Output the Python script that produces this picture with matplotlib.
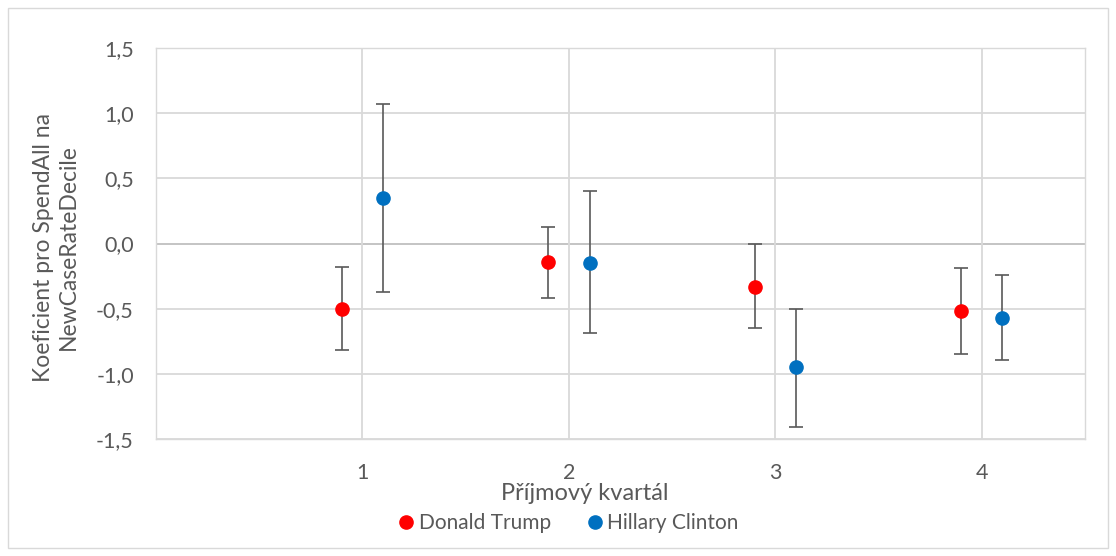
#! /usr/bin/env python3

import numpy as np
import matplotlib.pyplot as plt
from matplotlib.patches import Rectangle
from matplotlib.lines import Line2D

plt.rcParams['font.family'] = ['Lato', 'DejaVu Sans']

# data
quartiles = [1, 2, 3, 4]
trump_coef = [-0.50, -0.14, -0.33, -0.52]
trump_low = [-0.82, -0.42, -0.65, -0.85]
trump_high = [-0.18, 0.13, 0.00, -0.19]
clinton_coef = [0.35, -0.15, -0.95, -0.57]
clinton_low = [-0.37, -0.69, -1.41, -0.89]
clinton_high = [1.07, 0.40, -0.50, -0.24]

grey = '#595959'
grid = '#d9d9d9'
red = '#ff0000'
blue = '#0070c0'

fig = plt.figure(figsize=(11.16, 5.56), dpi=100)
ax = fig.add_axes([0.1398, 0.2104, 0.8324, 0.7033])

fig.patches.append(Rectangle((8/1116, 8/556), 1100/1116, 540/556, transform=fig.transFigure,
                             fill=False, edgecolor=grid, linewidth=1.0))

x = np.array(quartiles, dtype=float)
tc = np.array(trump_coef)
cc = np.array(clinton_coef)
terr = [tc - np.array(trump_low), np.array(trump_high) - tc]
cerr = [cc - np.array(clinton_low), np.array(clinton_high) - cc]

ax.errorbar(x - 0.1, tc, yerr=terr, fmt='o', color=red, ecolor=grey,
            elinewidth=1.2, capsize=5, capthick=1.2, markersize=9.5, zorder=3)
ax.errorbar(x + 0.1, cc, yerr=cerr, fmt='o', color=blue, ecolor=grey,
            elinewidth=1.2, capsize=5, capthick=1.2, markersize=9.5, zorder=3)

ax.set_xlim(0, 4.5)
ax.set_ylim(-1.5, 1.5)
ax.set_xticks(quartiles)
yt = np.arange(-1.5, 1.51, 0.5)
ax.set_yticks(yt)
ax.set_yticklabels([('%.1f' % v).replace('.', ',') for v in yt])
ax.tick_params(length=0, labelsize=15.5, colors=grey)
ax.tick_params(axis='y', pad=16)
ax.tick_params(axis='x', pad=17)

for v in yt:
    ax.axhline(v, color='#bfbfbf' if abs(v) < 1e-9 else grid, linewidth=1.3, zorder=1)
for q in quartiles:
    ax.axvline(q, color=grid, linewidth=1.3, zorder=1)
for s in ax.spines.values():
    s.set_color(grid)
    s.set_linewidth(1.0)

fig.text(56/1116, 1 - 247/556, 'Koeficient pro SpendAll na\nNewCaseRateDecile', fontsize=16.5,
         color=grey, rotation=90, ha='center', va='center', linespacing=1.25)
fig.text(585/1116, 1 - 493/556, 'Příjmový kvartál', fontsize=17, color=grey, ha='center', va='center')

handles = [Line2D([], [], linestyle='none', marker='o', color=red, markersize=9.5),
           Line2D([], [], linestyle='none', marker='o', color=blue, markersize=9.5)]
leg = fig.legend(handles, ['Donald Trump', 'Hillary Clinton'], loc='center',
                 bbox_to_anchor=(566/1116, 1 - 523/556), ncol=2, frameon=False, fontsize=15,
                 handletextpad=0.0, columnspacing=1.5, handlelength=1.2)
for t in leg.get_texts():
    t.set_color(grey)

fig.savefig('out.png', dpi=100)
